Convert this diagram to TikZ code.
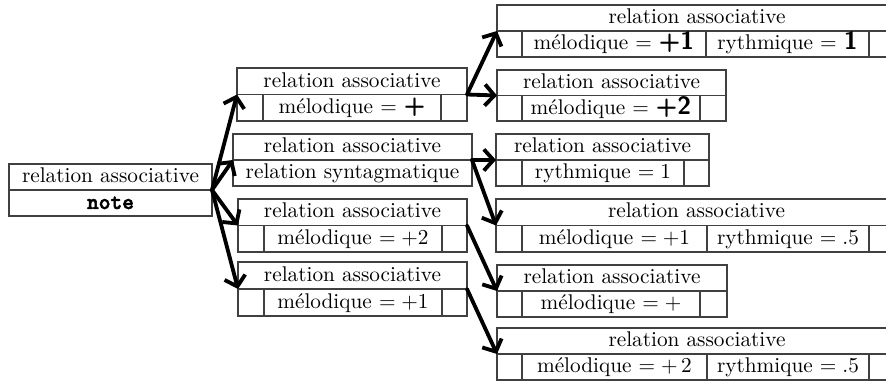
\documentclass[tikz,border=0pt]{standalone}
\usepackage{fontspec}
\newfontfamily\notefont{lmmonolt10-bold.otf}[FakeBold=2.5]
\usetikzlibrary{fit,arrows.meta}
\newcommand{\bsf}[1]{{\fontsize{11.8}{12}\sffamily\bfseries #1}}
\begin{document}
\begin{tikzpicture}[x=0.47pt,y=-0.47pt,
  frame/.style={draw=black!75, line width=0.5pt, inner sep=0pt, outer sep=0pt, fit={#1}},
  rule/.style={draw=black!75, line width=0.5pt},
  lbl/.style={inner sep=0pt, text height=7.3pt, text depth=1.7pt, font=\fontsize{10}{12}\selectfont},
  link/.style={line width=1.8pt, -{Straight Barb[length=4.5pt,width=10pt]}, line cap=round}]
\useasboundingbox (0,0) rectangle (886,381);

% root
\node[frame={(9,164) (212,216)}] (root) {};
\draw[rule] (root.west) -- (root.east);
\node[lbl] (rootA) at (110.5,177) {relation associative};
\node[lbl] (rootB) at (110.5,203) {\fontsize{10.5}{12}\notefont note};

% level 1
\node[frame={(237,68) (467,121)}] (b1) {};
\draw[rule] (b1.west) -- (b1.east);
\draw[rule] (263,94.5) -- (263,121) (441,94.5) -- (441,121);
\node[lbl] (b1A) at (352,81.5) {relation associative};
\node[lbl] (b1B) at (352,108) {mélodique $=$ \bsf{+}};

\node[frame={(233,134) (472,186)}] (b2) {};
\draw[rule] (b2.west) -- (b2.east);
\node[lbl] (b2A) at (352.5,147) {relation associative};
\node[lbl] (b2B) at (352.5,173) {relation syntagmatique};

\node[frame={(238,199) (467,252)}] (b3) {};
\draw[rule] (b3.west) -- (b3.east);
\draw[rule] (264,225.5) -- (264,252) (442,225.5) -- (442,252);
\node[lbl] (b3A) at (352.5,212) {relation associative};
\node[lbl] (b3B) at (353,239) {mélodique $=+2$};

\node[frame={(238,262) (467,316)}] (b4) {};
\draw[rule] (b4.west) -- (b4.east);
\draw[rule] (264,289) -- (264,316) (442,289) -- (442,316);
\node[lbl] (b4A) at (352.5,275.5) {relation associative};
\node[lbl] (b4B) at (353,302.5) {mélodique $=+1$};

% level 2
\node[frame={(497,5) (897,57)}] (cA) {};
\draw[rule] (cA.west) -- (cA.east);
\draw[rule] (522,31) -- (522,57) (706,31) -- (706,57) (869,31) -- (869,57);
\node[lbl] (cAt) at (697,18) {relation associative};
\node[lbl] (cAm) at (614,44) {mélodique $=$ \bsf{+1}};
\node[lbl] (cAr) at (787.5,44) {rythmique $=$ \bsf{1}};

\node[frame={(497,70) (726,121)}] (cB) {};
\draw[rule] (cB.west) -- (cB.east);
\draw[rule] (522,95.5) -- (522,121) (700,95.5) -- (700,121);
\node[lbl] (cBt) at (611.5,83) {relation associative};
\node[lbl] (cBm) at (611,108.5) {mélodique $=$ \bsf{+2}};

\node[frame={(496,134) (709,186)}] (cC) {};
\draw[rule] (cC.west) -- (cC.east);
\draw[rule] (522,160) -- (522,186) (684,160) -- (684,186);
\node[lbl] (cCt) at (602.5,147) {relation associative};
\node[lbl] (cCm) at (603,173) {rythmique $=1$};

\node[frame={(496,199) (897,252)}] (cD) {};
\draw[rule] (cD.west) -- (cD.east);
\draw[rule] (522,225.5) -- (522,252) (707,225.5) -- (707,252) (869,225.5) -- (869,252);
\node[lbl] (cDt) at (696.5,212) {relation associative};
\node[lbl] (cDm) at (614.5,239) {mélodique $=+1$};
\node[lbl] (cDr) at (788,239) {rythmique $=.5$};

\node[frame={(497,265) (727,317)}] (cE) {};
\draw[rule] (cE.west) -- (cE.east);
\draw[rule] (522,291) -- (522,317) (700,291) -- (700,317);
\node[lbl] (cEt) at (612,278) {relation associative};
\node[lbl] (cEm) at (611,304) {mélodique $=+$};

\node[frame={(497,328) (897,380)}] (cF) {};
\draw[rule] (cF.west) -- (cF.east);
\draw[rule] (522,354) -- (522,380) (707,354) -- (707,380) (869,354) -- (869,380);
\node[lbl] (cFt) at (697,341) {relation associative};
\node[lbl] (cFm) at (614.5,367) {mélodique $=+\,2$};
\node[lbl] (cFr) at (788,367) {rythmique $=.5$};

% connectors
\draw[link] (root.east) -- (b1.west);
\draw[link] (root.east) -- (b2.west);
\draw[link] (root.east) -- (b3.west);
\draw[link] (root.east) -- (b4.west);
\draw[link] (b1.east) -- (cA.west);
\draw[link] (b1.east) -- (cB.west);
\draw[link] (b2.east) -- (cC.west);
\draw[link] (b2.east) -- (cD.west);
\draw[link] (b3.east) -- (cE.west);
\draw[link] (b4.east) -- (cF.west);
\end{tikzpicture}
\end{document}
